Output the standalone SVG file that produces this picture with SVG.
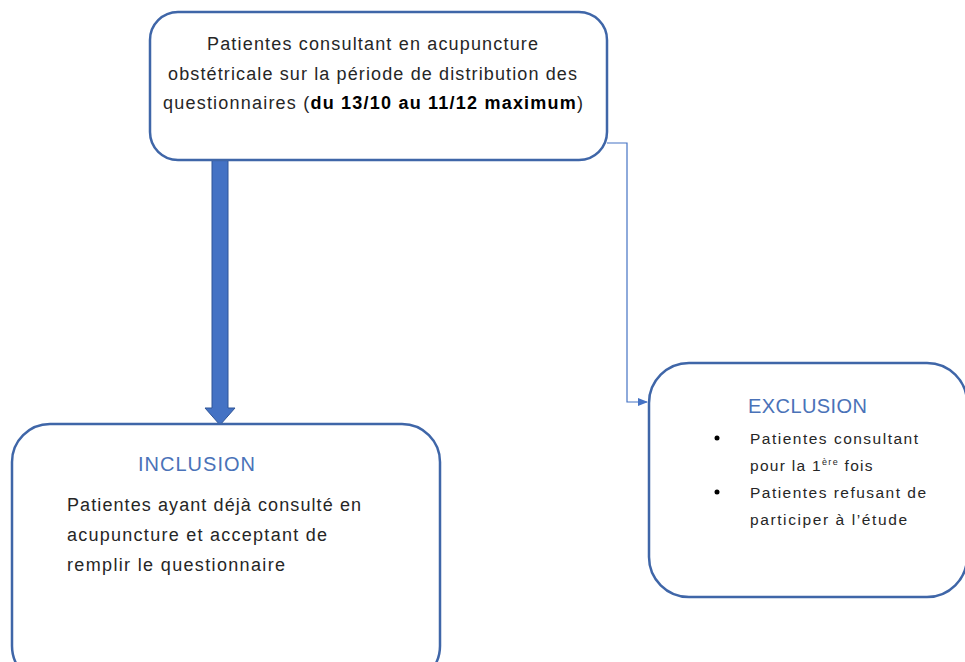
<svg xmlns="http://www.w3.org/2000/svg" width="965" height="662" viewBox="0 0 965 662">
<defs>
<style>
.box{fill:#ffffff;stroke:#3F66A8;stroke-width:2.5}
.t{font-family:"Liberation Sans",Arial,sans-serif;fill:#262626}
.h{font-family:"Liberation Sans",Arial,sans-serif;fill:#4A72B8}
</style>
<marker id="ah" markerWidth="10" markerHeight="10" refX="9" refY="5" orient="auto" markerUnits="userSpaceOnUse">
<path d="M0,1 L10,5 L0,9 Z" fill="#4472C4"/>
</marker>
</defs>
<rect width="965" height="662" fill="#ffffff"/>
<g id="connectors">
<path d="M212,160 L228,160 L228,408 L235,408 L220,425 L205,408 L212,408 Z" fill="#4472C4" stroke="#2F5597" stroke-width="1"/>
<path d="M607,143 L627,143 L627,402 L647,402" fill="none" stroke="#4472C4" stroke-width="1.2" marker-end="url(#ah)"/>
</g>
<g id="top">
<rect class="box" x="150" y="12" width="457" height="148" rx="28"/>
<text class="t" font-size="18"><tspan x="207" y="50" textLength="331">Patientes consultant en acupuncture</tspan><tspan x="168" y="80" textLength="409">obstétricale sur la période de distribution des</tspan><tspan x="163" y="109" textLength="420">questionnaires (<tspan font-weight="bold" fill="#000">du 13/10 au 11/12 maximum</tspan>)</tspan></text>
</g>
<g id="inclusion">
<rect class="box" x="12" y="424" width="428" height="260" rx="38"/>
<text class="h" x="138" y="471" font-size="20" textLength="117">INCLUSION</text>
<text class="t" font-size="18"><tspan x="67" y="511" textLength="294">Patientes ayant déjà consulté en</tspan><tspan x="67" y="541" textLength="260">acupuncture et acceptant de</tspan><tspan x="67" y="571" textLength="218">remplir le questionnaire</tspan></text>
</g>
<g id="exclusion">
<rect class="box" x="649" y="363" width="318" height="234" rx="40"/>
<text class="h" x="748" y="413" font-size="20" textLength="119">EXCLUSION</text>
<circle cx="717" cy="438" r="2.5" fill="#000"/>
<circle cx="717" cy="492" r="2.5" fill="#000"/>
<text class="t" font-size="15.5"><tspan x="750" y="444" textLength="168">Patientes consultant</tspan><tspan x="750" y="471" letter-spacing="1.3">pour la 1<tspan font-size="9" dy="-6">ère</tspan><tspan dy="6"> fois</tspan></tspan><tspan x="750" y="498" textLength="176">Patientes refusant de</tspan><tspan x="750" y="525" textLength="157">participer à l’étude</tspan></text>
</g>
</svg>
